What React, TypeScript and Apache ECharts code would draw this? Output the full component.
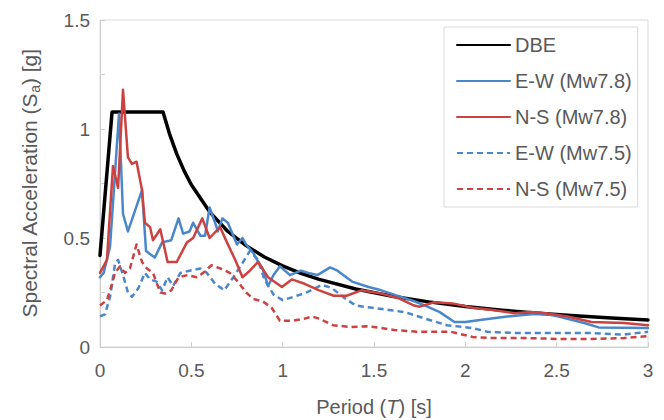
import React, { useEffect, useRef } from "react";
import * as echarts from "echarts";

// Period T [s] and spectral acceleration Sa [g]
const dbeT = [0, 0.066, 0.345, 0.38, 0.42, 0.46, 0.5, 0.6, 0.7, 0.8, 0.9, 1.0, 1.1, 1.2, 1.4, 1.6, 1.8, 2.0, 2.2, 2.4, 2.6, 2.8, 3.0];
const dbeSa = [0.42, 1.078, 1.078, 0.979, 0.886, 0.809, 0.744, 0.62, 0.53, 0.465, 0.413, 0.372, 0.338, 0.31, 0.266, 0.233, 0.207, 0.186, 0.169, 0.155, 0.143, 0.133, 0.124];

const ew78T = [0, 0.02, 0.055, 0.104, 0.126, 0.153, 0.23, 0.252, 0.3, 0.34, 0.39, 0.43, 0.455, 0.49, 0.51, 0.55, 0.575, 0.6, 0.63, 0.645, 0.67, 0.7, 0.75, 0.78, 0.8, 0.84, 0.86, 0.89, 0.92, 0.95, 0.985, 1.04, 1.1, 1.14, 1.19, 1.26, 1.3, 1.38, 1.47, 1.54, 1.61, 1.72, 1.78, 1.86, 1.94, 2.0, 2.09, 2.23, 2.36, 2.45, 2.51, 2.65, 2.73, 3.0];
const ew78Sa = [0.32, 0.34, 0.46, 1.07, 0.61, 0.53, 0.72, 0.44, 0.41, 0.48, 0.49, 0.59, 0.52, 0.53, 0.57, 0.51, 0.51, 0.64, 0.57, 0.53, 0.59, 0.57, 0.47, 0.5, 0.47, 0.43, 0.4, 0.36, 0.28, 0.33, 0.37, 0.33, 0.35, 0.34, 0.33, 0.365, 0.35, 0.3, 0.275, 0.26, 0.24, 0.21, 0.19, 0.16, 0.115, 0.115, 0.125, 0.14, 0.15, 0.15, 0.14, 0.11, 0.09, 0.087];

const ns78T = [0, 0.038, 0.071, 0.099, 0.126, 0.153, 0.175, 0.2, 0.23, 0.246, 0.274, 0.29, 0.33, 0.37, 0.42, 0.476, 0.51, 0.56, 0.6, 0.657, 0.695, 0.74, 0.78, 0.82, 0.865, 0.92, 0.996, 1.05, 1.12, 1.2, 1.28, 1.35, 1.43, 1.54, 1.63, 1.72, 1.75, 1.83, 1.93, 2.04, 2.15, 2.27, 2.36, 2.44, 2.56, 2.69, 2.87, 3.0];
const ns78Sa = [0.34, 0.4, 0.83, 0.73, 1.18, 0.87, 0.84, 0.85, 0.72, 0.57, 0.55, 0.49, 0.54, 0.39, 0.39, 0.48, 0.5, 0.59, 0.5, 0.55, 0.48, 0.4, 0.32, 0.35, 0.39, 0.32, 0.275, 0.31, 0.29, 0.26, 0.235, 0.235, 0.26, 0.245, 0.225, 0.19, 0.185, 0.205, 0.2, 0.18, 0.17, 0.155, 0.16, 0.155, 0.14, 0.115, 0.11, 0.1];

const ew75T = [0, 0.027, 0.055, 0.082, 0.099, 0.126, 0.153, 0.175, 0.21, 0.246, 0.274, 0.31, 0.34, 0.37, 0.4, 0.44, 0.49, 0.55, 0.585, 0.63, 0.68, 0.73, 0.78, 0.82, 0.865, 0.9, 0.95, 1.0, 1.06, 1.13, 1.215, 1.27, 1.33, 1.4, 1.49, 1.58, 1.67, 1.78, 1.9, 2.04, 2.12, 2.27, 2.51, 2.69, 2.87, 3.0];
const ew75Sa = [0.14, 0.15, 0.23, 0.38, 0.4, 0.33, 0.25, 0.23, 0.27, 0.34, 0.31, 0.3, 0.26, 0.32, 0.28, 0.34, 0.35, 0.36, 0.34, 0.29, 0.26, 0.32, 0.385, 0.44, 0.4, 0.31, 0.24, 0.215, 0.23, 0.25, 0.285, 0.27, 0.23, 0.19, 0.18, 0.17, 0.16, 0.13, 0.1, 0.087, 0.07, 0.064, 0.064, 0.064, 0.057, 0.07];

const ns75T = [0, 0.038, 0.066, 0.082, 0.11, 0.137, 0.164, 0.2, 0.23, 0.257, 0.29, 0.33, 0.356, 0.39, 0.43, 0.48, 0.53, 0.565, 0.61, 0.66, 0.71, 0.755, 0.8, 0.84, 0.89, 0.94, 0.985, 1.05, 1.12, 1.16, 1.2, 1.275, 1.37, 1.46, 1.54, 1.61, 1.735, 1.92, 2.04, 2.15, 2.33, 2.51, 2.69, 2.87, 3.0];
const ns75Sa = [0.19, 0.215, 0.29, 0.34, 0.37, 0.34, 0.36, 0.47, 0.39, 0.36, 0.34, 0.25, 0.245, 0.26, 0.32, 0.33, 0.32, 0.34, 0.375, 0.36, 0.34, 0.3, 0.25, 0.22, 0.21, 0.18, 0.12, 0.12, 0.13, 0.14, 0.13, 0.1, 0.092, 0.095, 0.087, 0.078, 0.07, 0.07, 0.046, 0.041, 0.041, 0.037, 0.037, 0.041, 0.05];

const seriesNames = ["DBE", "E-W (Mw7.8)", "N-S (Mw7.8)", "E-W (Mw7.5)", "N-S (Mw7.5)"];
const xTicks = [0, 0.5, 1, 1.5, 2, 2.5, 3];
const yTicks = [0, 0.5, 1, 1.5];

const zip = (xs: number[], ys: number[]) => xs.map((x, i) => [x, ys[i]]);

const BLUE = "#4a87ca";
const RED = "#cc4240";
const TEXT = "#595959";
const FONT = "'Liberation Sans', Arial, sans-serif";

export default function App() {
  const ref = useRef<HTMLDivElement>(null);
  useEffect(() => {
    document.body.style.margin = "0";
    const chart = echarts.init(ref.current!, null, { renderer: "svg" });
    const mk = (name: string, data: number[][], color: string, width: number, dashed: boolean) => ({
      name,
      type: "line",
      data,
      symbol: "none",
      showSymbol: false,
      smooth: false,
      lineStyle: {
        color,
        width,
        type: dashed ? [6, 4] : "solid",
        join: "round",
        cap: dashed ? "butt" : "round",
      },
      itemStyle: { color },
      z: dashed ? 2 : 3,
    });
    chart.setOption({
      animation: false,
      textStyle: { fontFamily: FONT },
      grid: {
        left: 100,
        right: 16,
        top: 20,
        bottom: 73,
        show: true,
        borderColor: "#d9d9d9",
        borderWidth: 1,
        outerBoundsMode: "none",
      },
      legend: {
        orient: "vertical",
        left: 444,
        top: 27,
        padding: [8, 6, 8, 12],
        itemWidth: 53,
        itemHeight: 20,
        itemGap: 16,
        borderColor: "#d9d9d9",
        borderWidth: 1,
        backgroundColor: "#ffffff",
        itemStyle: { opacity: 0 },
        textStyle: { color: TEXT, fontSize: 20, fontFamily: FONT, lineHeight: 20 },
        data: seriesNames,
      },
      xAxis: {
        type: "value",
        min: 0,
        max: 3,
        interval: 0.5,
        name: "Period ({i|T}) [s]",
        nameLocation: "middle",
        nameGap: 50,
        nameTextStyle: {
          color: TEXT,
          fontSize: 20,
          fontFamily: FONT,
          rich: { i: { fontStyle: "italic", fontSize: 20, color: TEXT, fontFamily: FONT } },
        },
        axisLine: { show: true, lineStyle: { color: "#d0d0d0", width: 1 } },
        axisTick: { show: true, inside: true, length: 5, lineStyle: { color: "#d0d0d0" } },
        axisLabel: {
          color: TEXT,
          fontSize: 19,
          fontFamily: FONT,
          margin: 14,
          formatter: (v: number) => (xTicks.includes(v) ? String(v) : ""),
        },
        splitLine: { show: false },
      },
      yAxis: {
        type: "value",
        min: 0,
        max: 1.5,
        interval: 0.25,
        name: "Spectral Acceleration (S{sub|a}) [g]",
        nameLocation: "middle",
        nameGap: 58,
        nameTextStyle: {
          color: TEXT,
          fontSize: 21,
          fontFamily: FONT,
          lineHeight: 26,
          rich: { sub: { fontSize: 14, color: TEXT, fontFamily: FONT, verticalAlign: "bottom", lineHeight: 14 } },
        },
        axisLine: { show: true, lineStyle: { color: "#d0d0d0", width: 1 } },
        axisTick: { show: true, inside: true, length: 5, lineStyle: { color: "#d0d0d0" } },
        axisLabel: {
          color: TEXT,
          fontSize: 19,
          fontFamily: FONT,
          margin: 10,
          formatter: (v: number) => (yTicks.some((t) => Math.abs(t - v) < 1e-9) ? String(v) : ""),
        },
        splitLine: { show: false },
      },
      series: [
        mk(seriesNames[0], zip(dbeT, dbeSa), "#000000", 3.5, false),
        mk(seriesNames[1], zip(ew78T, ew78Sa), BLUE, 2.5, false),
        mk(seriesNames[2], zip(ns78T, ns78Sa), RED, 2.5, false),
        mk(seriesNames[3], zip(ew75T, ew75Sa), BLUE, 2.5, true),
        mk(seriesNames[4], zip(ns75T, ns75Sa), RED, 2.5, true),
      ],
    });
    return () => chart.dispose();
  }, []);
  return <div ref={ref} style={{ position: "absolute", left: 0, top: 0, width: 664, height: 420 }} />;
}
